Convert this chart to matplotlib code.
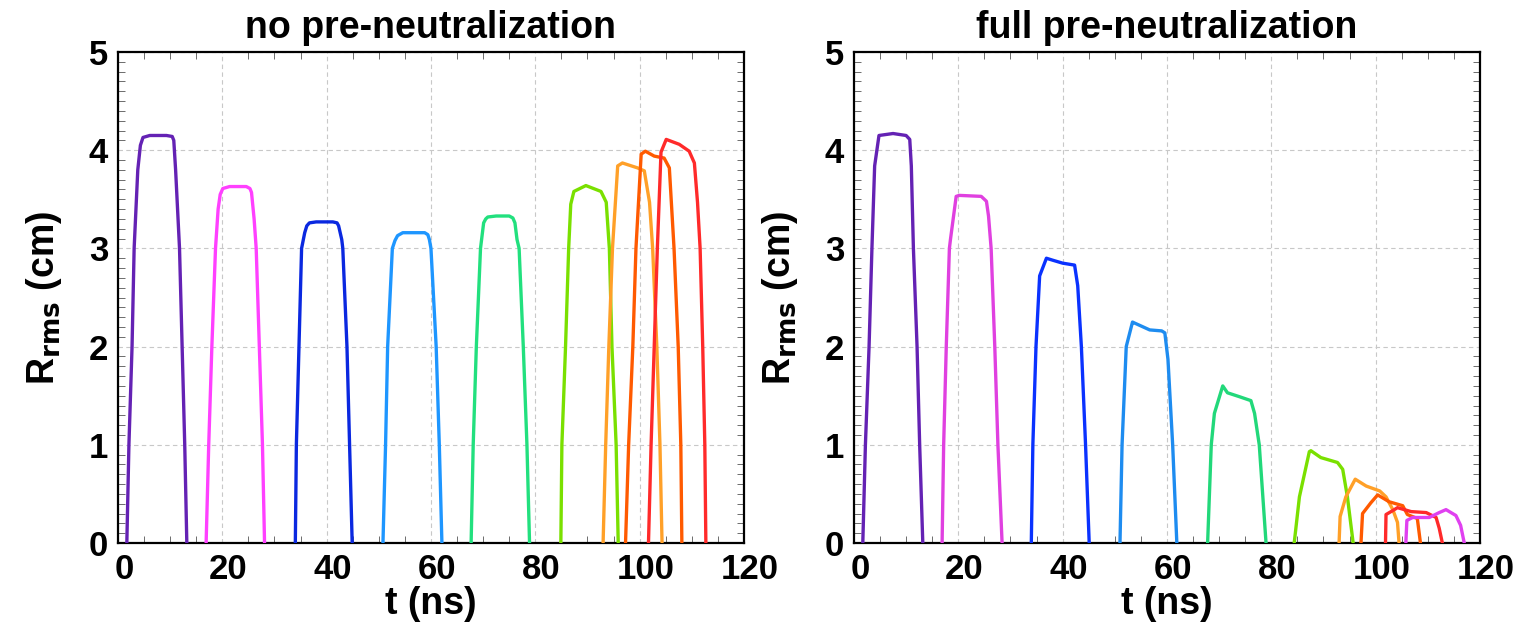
import matplotlib
matplotlib.use("Agg")
import matplotlib.pyplot as plt
import matplotlib.transforms as mtransforms
from matplotlib.ticker import MultipleLocator

plt.rcParams['font.family'] = ['Liberation Sans', 'DejaVu Sans']
plt.rcParams['font.weight'] = 'bold'

# left panel: no pre-neutralization, one pulse per list entry
left_t = [
    [1.7, 2.1, 2.7, 3.1, 3.8, 4.3, 4.8, 6.1, 9.3, 10.4, 10.7, 11.05, 11.8, 12.3, 12.8, 13.2],
    [16.9, 17.4, 18.0, 18.7, 19.2, 19.6, 20.1, 21.4, 24.6, 25.3, 25.6, 26.1, 26.5, 27.1, 27.7, 28.1],
    [34.0, 34.2, 34.7, 35.2, 35.8, 36.2, 36.7, 38.0, 41.2, 42.0, 42.3, 42.9, 43.1, 43.9, 44.4, 44.9],
    [50.8, 51.3, 51.7, 52.6, 53.1, 53.6, 54.6, 58.8, 59.4, 59.7, 60.0, 61.0, 61.6, 62.1],
    [67.7, 68.1, 68.7, 69.5, 70.1, 70.5, 70.9, 72.5, 75.0, 75.7, 76.1, 76.5, 76.9, 77.7, 78.4, 78.9],
    [84.9, 85.1, 85.8, 86.4, 86.8, 87.4, 89.7, 92.6, 93.6, 94.2, 94.7, 95.5, 95.9],
    [93.0, 93.5, 94.1, 94.8, 95.8, 96.7, 99.6, 100.9, 101.9, 102.5, 103.3, 103.9, 104.3],
    [97.3, 97.9, 98.7, 99.3, 100.3, 101.1, 102.8, 104.7, 105.7, 106.6, 107.4, 107.9, 108.1],
    [101.7, 102.2, 102.8, 103.4, 104.1, 105.1, 107.6, 109.5, 110.5, 111.1, 111.6, 112.1, 112.5, 112.7],
]
left_r = [
    [0, 1, 2, 3, 3.8, 4.05, 4.13, 4.15, 4.15, 4.14, 4.10, 3.8, 3, 2, 1, 0],
    [0, 1, 2, 3, 3.40, 3.55, 3.61, 3.63, 3.63, 3.61, 3.57, 3.30, 3, 2, 1, 0],
    [0, 1, 2, 3, 3.16, 3.23, 3.26, 3.27, 3.27, 3.26, 3.23, 3.09, 3, 2, 1, 0],
    [0, 1, 2, 3, 3.08, 3.13, 3.16, 3.16, 3.14, 3.09, 3, 2, 1, 0],
    [0, 1, 2, 3, 3.26, 3.30, 3.32, 3.33, 3.33, 3.31, 3.26, 3.09, 3, 2, 1, 0],
    [0, 1, 2, 3, 3.45, 3.58, 3.64, 3.58, 3.47, 3, 2, 1, 0],
    [0, 1, 2, 3, 3.84, 3.87, 3.82, 3.79, 3.47, 3, 2, 1, 0],
    [0, 1, 2, 3, 3.96, 3.99, 3.94, 3.92, 3.82, 3, 2, 1, 0],
    [0, 1, 2, 3, 3.98, 4.11, 4.06, 3.99, 3.87, 3.47, 3, 2, 1, 0],
]
left_colors = ['#6422b4', '#ff40ff', '#0a28e0', '#1e96ff', '#22e07e',
               '#7ae000', '#ffa028', '#ff5a00', '#ff2a2a']

# right panel: full pre-neutralization
right_t = [
    [1.7, 2.2, 2.9, 3.45, 3.97, 4.8, 7.5, 10.0, 10.7, 11.0, 11.4, 12.1, 12.6, 13.2],
    [16.9, 17.2, 17.7, 18.3, 18.5, 19.6, 20.2, 24.4, 25.4, 25.8, 26.3, 27.0, 27.6, 28.4],
    [34.0, 34.3, 34.9, 35.6, 36.9, 38.1, 40.0, 42.3, 42.9, 43.6, 44.4, 45.1],
    [51.0, 51.4, 52.2, 53.4, 53.8, 56.7, 59.0, 59.6, 60.2, 61.1, 61.9],
    [67.8, 68.5, 69.1, 70.7, 71.6, 73.9, 76.1, 76.8, 77.7, 79.0],
    [84.4, 85.4, 87.3, 87.6, 89.5, 92.7, 93.7, 94.6, 95.7],
    [93.0, 93.2, 94.3, 96.1, 98.2, 100.8, 102.0, 103.3, 104.2, 104.5],
    [97.2, 97.5, 99.1, 100.4, 102.6, 105.2, 106.1, 108.0, 108.6],
    [101.9, 102.0, 103.6, 104.2, 106.8, 109.7, 111.6, 112.2, 112.8],
    [105.8, 106.0, 107.1, 110.3, 112.2, 113.5, 115.4, 116.3, 117.0],
]
right_r = [
    [0, 1, 2, 3, 3.84, 4.15, 4.17, 4.15, 4.11, 3.84, 3, 2, 1, 0],
    [0, 1, 2, 3, 3.09, 3.53, 3.54, 3.53, 3.48, 3.33, 3, 2, 1, 0],
    [0, 1, 2, 2.72, 2.90, 2.88, 2.85, 2.83, 2.62, 2, 1, 0],
    [0, 1, 2, 2.25, 2.24, 2.17, 2.16, 2.14, 1.87, 1, 0],
    [0, 1, 1.32, 1.60, 1.53, 1.49, 1.45, 1.32, 1, 0],
    [0, 0.47, 0.93, 0.94, 0.87, 0.82, 0.75, 0.47, 0],
    [0, 0.27, 0.47, 0.65, 0.58, 0.53, 0.47, 0.34, 0.21, 0],
    [0, 0.30, 0.41, 0.49, 0.42, 0.38, 0.29, 0.25, 0],
    [0, 0.29, 0.34, 0.36, 0.32, 0.31, 0.26, 0.15, 0],
    [0, 0.23, 0.26, 0.26, 0.31, 0.34, 0.28, 0.18, 0],
]
right_colors = ['#6422b4', '#e040e0', '#0a32ff', '#1e8cf0', '#22d87a',
                '#7ae000', '#ffa028', '#ff5a00', '#ff2a2a', '#e040f0']

titles = ['no pre-neutralization', 'full pre-neutralization']

fig = plt.figure(figsize=(15.32, 6.32), dpi=100)
ax1 = fig.add_axes([0.0770, 0.1408, 0.4086, 0.7769])
ax2 = fig.add_axes([0.5574, 0.1408, 0.4086, 0.7769])

# x tick labels sit a little right of their ticks in the original
shift = mtransforms.ScaledTranslation(6 / 100, 0, fig.dpi_scale_trans)

for ax, ts, rs, cols, title in [(ax1, left_t, left_r, left_colors, titles[0]),
                                (ax2, right_t, right_r, right_colors, titles[1])]:
    for t, r, c in zip(ts, rs, cols):
        ax.plot(t, r, color=c, lw=2.4, solid_joinstyle='round', zorder=3)
    ax.set_xlim(0, 120)
    ax.set_ylim(0, 5)
    ax.xaxis.set_major_locator(MultipleLocator(20))
    ax.xaxis.set_minor_locator(MultipleLocator(5))
    ax.yaxis.set_major_locator(MultipleLocator(1))
    ax.yaxis.set_minor_locator(MultipleLocator(0.1))
    ax.grid(True, which='major', color='#c8c8c8', ls=(0, (4, 3)), lw=0.8)
    ax.tick_params(which='both', direction='in', top=True, right=True,
                   labelsize=25, width=0.6, color='#555555', pad=7)
    ax.tick_params(which='major', length=0)
    ax.tick_params(which='minor', length=5)
    for s in ax.spines.values():
        s.set_linewidth(1.6)
    ax.set_title(title, fontsize=27, fontweight='bold', pad=10)
    ax.set_xlabel('t (ns)', fontsize=27, fontweight='bold', labelpad=0)
    ax.set_ylabel(r'R$_{\mathbf{rms}}$ (cm)', fontsize=27, fontweight='bold', labelpad=18)
    for lab in ax.get_xticklabels():
        lab.set_transform(lab.get_transform() + shift)

fig.savefig('out.png', dpi=100)
